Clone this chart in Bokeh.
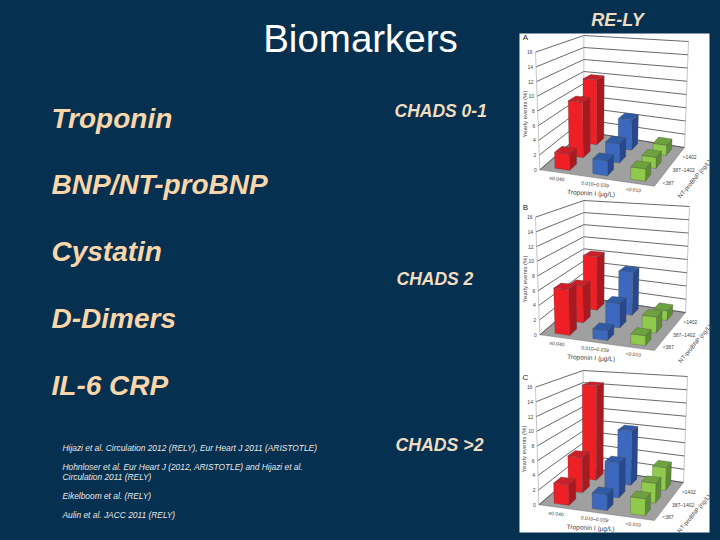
from bokeh.plotting import figure
from bokeh.models import Range1d
from bokeh.core.properties import value
from bokeh.embed import file_html
from bokeh.resources import INLINE

# ---- data
troponin_labels = ["\u22650.040", "0.010\u20130.039", "<0.010"]
ntprobnp_labels_ab = ["<387", "387\u20131402", ">1402"]
panel_names = ["A", "B", "C"]
yticks = [0, 2, 4, 6, 8, 10, 12, 14, 16]
# rows: troponin group, columns: NT-proBNP group (front to back)
events_a = [[2.2, 8.0, 10.0], [2.0, 2.7, 4.5], [1.6, 1.5, 1.5]]
events_b = [[6.2, 5.2, 8.2], [1.3, 3.4, 6.4], [1.3, 2.2, 1.4]]
events_c = [[2.8, 5.1, 14.5], [2.1, 4.9, 8.1], [2.2, 2.7, 3.3]]
title = "Biomarkers"
side_title = "RE-LY"
markers = ["Troponin", "BNP/NT-proBNP", "Cystatin", "D-Dimers", "IL-6 CRP"]
chads = ["CHADS 0-1", "CHADS 2", "CHADS >2"]
refs = ["Hijazi et al. Circulation 2012 (RELY), Eur Heart J 2011 (ARISTOTLE)",
        "Hohnloser et al. Eur Heart J (2012, ARISTOTLE) and Hijazi et al.",
        "Circulation 2011 (RELY)",
        "Eikelboom et al. (RELY)",
        "Aulin et al. JACC 2011 (RELY)"]

BG = "#05304f"
SANS = value("Liberation Sans")
p = figure(width=720, height=540, x_range=Range1d(0, 720), y_range=Range1d(540, 0),
           output_backend="svg", toolbar_location=None, min_border=0,
           background_fill_color=BG, border_fill_color=BG, outline_line_color=None)
p.axis.visible = False
p.grid.visible = False

def txt(x, y, s, size, color="#ffffff", style="normal", align="left", angle=0, base="middle"):
    p.text([x], [y], text=[s], text_font=SANS, text_font_size=f"{size}px", text_color=color,
           text_font_style=style, text_align=align, text_baseline=base, angle=angle,
           angle_units="deg")

PEACH = "#fad6aa"
txt(360, 38, title, 38.5, align="center")
txt(617, 19, side_title, 18, color="#f0dcc0", style="bold italic", align="center")
for s, y in zip(markers, [118, 184, 251, 318, 385]):
    txt(51, y, s, 28, color=PEACH, style="bold italic")
for s, x, y, z in zip(chads, [394, 396, 395], [110, 278, 444], [17.5, 17.5, 17.7]):
    txt(x, y, s, z, color="#f0dcc0", style="bold italic")
for s, y in zip(refs, [447, 466, 476, 495, 514]):
    txt(62, y, s, 8.4, color="#e8e8e8", style="italic")

p.quad(left=[519], right=[709], top=[33], bottom=[532], fill_color="#ffffff", line_color=None)


def lerp(a, b, t):
    return (a[0] + (b[0] - a[0]) * t, a[1] + (b[1] - a[1]) * t)


def panel(data, name, ox, oy, FL, FR, BR, BL, TFL, TFR, TBR, TBL):
    def base(u, v):
        return lerp(lerp(FL, FR, u), lerp(BL, BR, u), v)

    def top(u, v):
        return lerp(lerp(TFL, TFR, u), lerp(TBL, TBR, u), v)

    def P(u, v, h):
        q = lerp(base(u, v), top(u, v), h / 16)
        return (ox + q[0] / 3, oy + q[1] / 3)

    def poly(pts, fill):
        p.patch([a for a, _ in pts], [b for _, b in pts], fill_color=fill,
                line_color="#444444", line_width=0.3)

    poly([P(0, 0, 0), P(1, 0, 0), P(1, 1, 0), P(0, 1, 0)], "#a0a0a0")
    for h in yticks:
        a, b, c = P(0, 0, h), P(0, 1, h), P(1, 1, h)
        p.line([a[0], b[0], c[0]], [a[1], b[1], c[1]], line_color="#444444", line_width=0.8)
    for u, v in [(0, 0), (0, 1), (1, 1)]:
        a, b = P(u, v, 0), P(u, v, 16)
        p.line([a[0], b[0]], [a[1], b[1]], line_color="#8a8a8a", line_width=0.5)

    colors = [("#ee1f25", "#a81a1f", "#c9202a"),
              ("#3c69bd", "#27488c", "#2f5aa6"),
              ("#90ca4c", "#5d8c35", "#6ea23f")]
    hu, hv = 0.065, 0.085
    for j in [2, 1, 0]:
        for i in [2, 1, 0]:
            h = data[i][j]
            u, v = (i + 0.5) / 3, (j + 0.5) / 3
            front, side, topc = colors[i]
            poly([P(u + hu, v - hv, 0), P(u + hu, v + hv, 0), P(u + hu, v + hv, h), P(u + hu, v - hv, h)], side)
            poly([P(u - hu, v - hv, 0), P(u + hu, v - hv, 0), P(u + hu, v - hv, h), P(u - hu, v - hv, h)], front)
            poly([P(u - hu, v - hv, h), P(u + hu, v - hv, h), P(u + hu, v + hv, h), P(u - hu, v + hv, h)], topc)

    G = "#444444"
    for h in yticks:
        a = P(0, 0, h)
        txt(a[0] - 3, a[1], str(h), 5, color=G, align="right")
    a = P(0, 0, 8)
    txt(a[0] - 13, a[1] + 3, "Yearly events (%)", 6, color=G, align="center", angle=90)
    for i, s in enumerate(troponin_labels):
        a = P((i + 0.5) / 3, 0, 0)
        txt(a[0] - 2, a[1] + 6, s, 5, color=G, align="center", angle=-6)
    a = P(0.5, 0, 0)
    txt(a[0] - 6, a[1] + 15, "Troponin I (\u00b5g/L)", 6.5, color=G, align="center", angle=-3)
    for j, s in enumerate(ntprobnp_labels_ab):
        a = P(1, (j + 0.5) / 3, 0)
        txt(a[0] + 3, a[1] + 3, s, 5, color=G)
    a = P(1, 0.5, 0)
    txt(a[0] + 25, a[1] + 12, "NT-proBNP (ng/L)", 6, color=G, align="center", angle=50)
    txt(ox + 15, oy + 12, name, 8, color="#222222", align="center")


panel(events_a, panel_names[0], 510, 25, (88, 433), (432, 482), (522, 366), (220, 318),
      (75, 80), (439, 99), (534, 48), (220, 30))
panel(events_b, panel_names[1], 510, 195, (88, 418), (432, 465), (525, 351), (220, 305),
      (75, 65), (439, 84), (537, 33), (220, 15))
panel(events_c, panel_names[2], 510, 365, (85, 418), (432, 465), (519, 351), (218, 305),
      (75, 65), (439, 84), (531, 33), (218, 15))

html = file_html(p, INLINE)
html = html.replace("<head>", f"<head><style>html,body{{margin:0;padding:0;overflow:hidden;background:{BG}}}</style>", 1)
open("out.html", "w").write(html)
